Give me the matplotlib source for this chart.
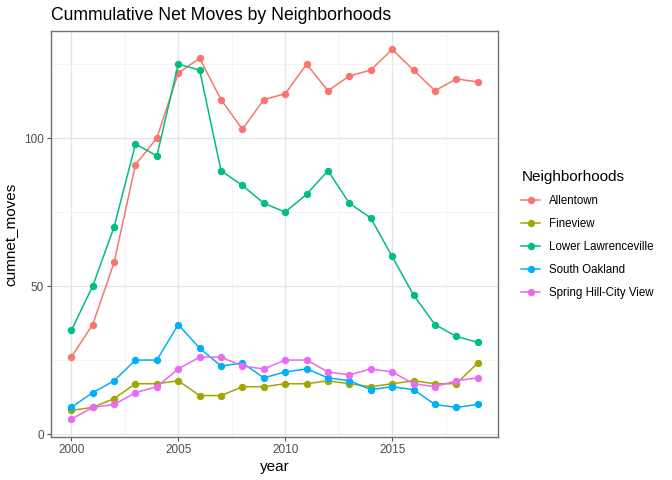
import matplotlib
matplotlib.use("Agg")
import matplotlib.pyplot as plt
from matplotlib.ticker import MultipleLocator

years = list(range(2000, 2020))

allentown = [26, 37, 58, 91, 100, 122, 127, 113, 103, 113, 115, 125, 116, 121, 123, 130, 123, 116, 120, 119]
fineview = [8, 9, 12, 17, 17, 18, 13, 13, 16, 16, 17, 17, 18, 17, 16, 17, 18, 17, 17, 24]
lower_lawrenceville = [35, 50, 70, 98, 94, 125, 123, 89, 84, 78, 75, 81, 89, 78, 73, 60, 47, 37, 33, 31]
south_oakland = [9, 14, 18, 25, 25, 37, 29, 23, 24, 19, 21, 22, 19, 18, 15, 16, 15, 10, 9, 10]
spring_hill = [5, 9, 10, 14, 16, 22, 26, 26, 23, 22, 25, 25, 21, 20, 22, 21, 17, 16, 18, 19]

names = ["Allentown", "Fineview", "Lower Lawrenceville", "South Oakland", "Spring Hill-City View"]
series = [allentown, fineview, lower_lawrenceville, south_oakland, spring_hill]
colors = ["#F8766D", "#A3A500", "#00BF7D", "#00B0F6", "#E76BF3"]

plt.rcParams["font.family"] = ["Liberation Sans", "DejaVu Sans"]

fig = plt.figure(figsize=(6.72, 4.8), dpi=100)
ax = fig.add_axes([51 / 672, 43 / 480, 447 / 672, 406 / 480])

for name, vals, c in zip(names, series, colors):
    ax.plot(years, vals, color=c, lw=1.1, marker="o", markersize=4.3, label=name)

ax.set_xlim(1999.05, 2019.95)
ax.set_ylim(-1, 136.2)
ax.xaxis.set_major_locator(MultipleLocator(5))
ax.xaxis.set_minor_locator(MultipleLocator(2.5))
ax.yaxis.set_major_locator(MultipleLocator(50))
ax.yaxis.set_minor_locator(MultipleLocator(25))
ax.grid(which="major", color="#E5E5E5", lw=0.9)
ax.grid(which="minor", color="#F2F2F2", lw=0.6)
ax.set_axisbelow(True)
for s in ax.spines.values():
    s.set_color("#707070")
    s.set_linewidth(1.0)
ax.tick_params(which="major", length=3, color="#555555", labelsize=8.5, labelcolor="#4D4D4D", pad=2)
ax.tick_params(which="minor", length=0)

ax.set_xlabel("year", fontsize=11, labelpad=3)
ax.set_ylabel("cumnet_moves", fontsize=11, labelpad=4)
ax.set_title("Cummulative Net Moves by Neighborhoods", fontsize=12.7, loc="left", pad=8)

leg = fig.legend(loc="upper left", bbox_to_anchor=(511 / 672, 1 - 160 / 480), frameon=False,
                 title="Neighborhoods", fontsize=8.3, title_fontsize=11,
                 handlelength=1.6, labelspacing=0.95, handletextpad=0.8)
leg._legend_box.align = "left"

fig.savefig("out.png", dpi=100)
